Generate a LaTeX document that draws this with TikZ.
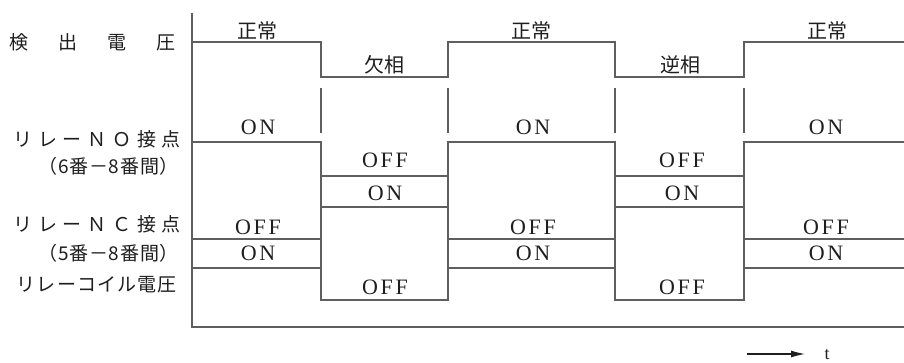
\documentclass[tikz,border=0pt]{standalone}
\usepackage{fontspec}
\setmainfont{Liberation Serif}
\newfontfamily\jp{Noto Sans CJK JP}
\newfontfamily\jpwide[LetterSpace=30]{Noto Sans CJK JP}
\newfontfamily\jpsemi[LetterSpace=6]{Noto Sans CJK JP}
\newfontfamily\jpnum[LetterSpace=4]{Noto Sans CJK JP}
\newfontfamily\onoff[LetterSpace=12]{Liberation Serif}
\usetikzlibrary{arrows.meta}
\definecolor{ink}{RGB}{30,30,30}
\definecolor{wire}{RGB}{95,95,95}
\tikzset{
  x=1pt, y=-1pt,
  wave/.style={draw=wire, line width=1.1pt},
  gapmark/.style={draw=wire, line width=1.1pt},
  rowlab/.style={anchor=east, inner sep=0pt, text=ink, font=\jp\fontsize{19}{19}\selectfont},
  seglab/.style={inner sep=0pt, text=ink, font=\jp\fontsize{20}{20}\selectfont},
  st/.style={inner sep=0pt, text=ink, font=\onoff\fontsize{22}{22}\selectfont},
}
\begin{document}
\begin{tikzpicture}
\useasboundingbox (0,0) rectangle (904,363);
% axis
\coordinate (axtop) at (192,13);
\coordinate (axcorner) at (192,327);
\coordinate (axend) at (904,327);
\draw[wave] (axtop) -- (axcorner) -- (axend);
% detection voltage
\draw[wave] (192,42) -| (321,77) -| (448,42) -| (615,77) -| (744,42) -- (904,42);
% gap marks
\foreach \xx in {321,448,615,744} \draw[gapmark] (\xx,88) -- (\xx,133);
% NO contact
\draw[wave] (192,142) -| (321,176) -| (448,142) -| (615,176) -| (744,142) -- (904,142);
% NC contact
\draw[wave] (192,239) -| (321,207) -| (448,239) -| (615,207) -| (744,239) -- (904,239);
% coil voltage
\draw[wave] (192,268) -| (321,300) -| (448,268) -| (615,300) -| (744,268) -- (904,268);
% connecting verticals
\foreach \xx in {321,448,615,744} {
  \draw[wave] (\xx,176) -- (\xx,207);
  \draw[wave] (\xx,239) -- (\xx,268);
}
% row labels
\node[rowlab] (rDet) at (176,42) {検\hspace{30pt}出\hspace{30pt}電\hspace{30pt}圧};
\node[rowlab, font=\jpwide\fontsize{19}{19}\selectfont] (rNO) at (181,139) {リレーＮＯ接点};
\node[rowlab, font=\jpnum\fontsize{19}{19}\selectfont] (rNOp) at (179,166) {（6番－8番間）};
\node[rowlab, font=\jpwide\fontsize{19}{19}\selectfont] (rNC) at (181,224) {リレーＮＣ接点};
\node[rowlab, font=\jpnum\fontsize{19}{19}\selectfont] (rNCp) at (179,253) {（5番－8番間）};
\node[rowlab, font=\jpsemi\fontsize{19}{19}\selectfont] (rCoil) at (177,285) {リレーコイル電圧};
% segment labels
\node[seglab] (s1) at (257,31) {正常};
\node[seglab] (s2) at (384,65) {欠相};
\node[seglab] (s3) at (531,31) {正常};
\node[seglab] (s4) at (680,65) {逆相};
\node[seglab] (s5) at (827,31) {正常};
% state labels
\node[st] (a1) at (258,127) {ON};
\node[st] (b1) at (258,227) {OFF};
\node[st] (c1) at (258,253) {ON};
\node[st] (a2) at (385,160) {OFF};
\node[st] (b2) at (385,193) {ON};
\node[st] (c2) at (385,287) {OFF};
\node[st] (a3) at (533,127) {ON};
\node[st] (b3) at (533,227) {OFF};
\node[st] (c3) at (533,253) {ON};
\node[st] (a4) at (682,160) {OFF};
\node[st] (b4) at (682,193) {ON};
\node[st] (c4) at (682,287) {OFF};
\node[st] (a5) at (826,127) {ON};
\node[st] (b5) at (826,227) {OFF};
\node[st] (c5) at (826,253) {ON};
% time arrow
\coordinate (tstart) at (747,354);
\coordinate (tend) at (805,354);
\draw[draw=ink, line width=1.1pt, -{Latex[length=14pt,width=7pt]}] (tstart) -- (tend);
\node[inner sep=0pt, text=ink, font=\fontsize{18}{18}\selectfont, anchor=base] (tlab) at (827,359) {t};
\end{tikzpicture}
\end{document}
